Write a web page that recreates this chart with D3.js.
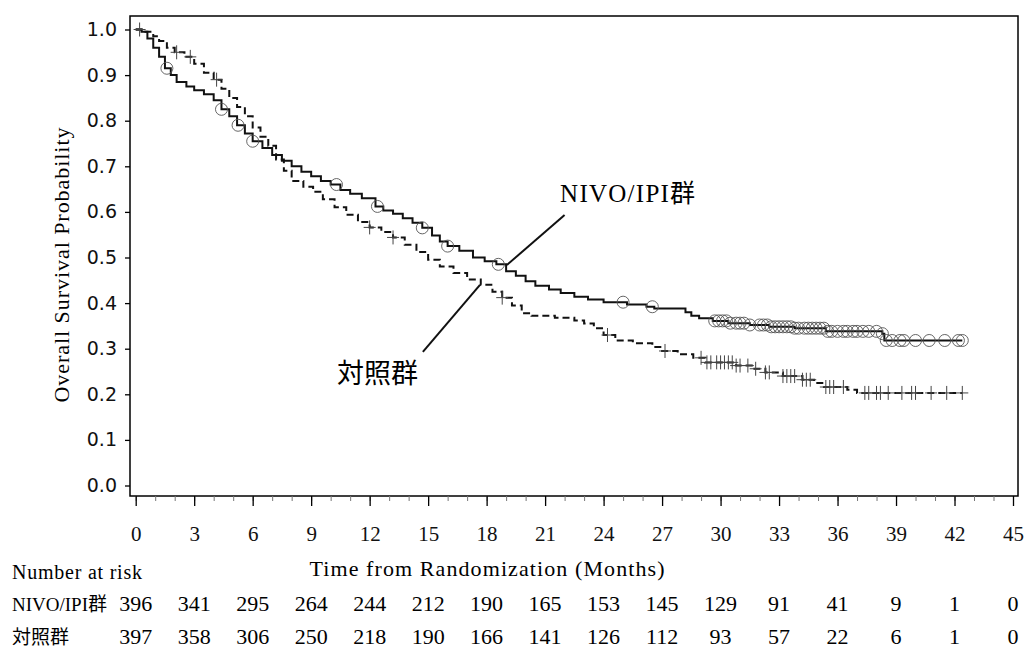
<!DOCTYPE html>
<html>
<head>
<meta charset="utf-8">
<script src="https://cdn.jsdelivr.net/npm/d3@7"></script>
<style>
  body { margin: 0; background: #fff; }
  .serif { font-family: "Liberation Serif", "Times New Roman", "Noto Sans CJK JP", serif; }
</style>
</head>
<body>
<div id="km"></div>
<script>
// Kaplan-Meier steps: [month, survival]
const nivoSteps = [
  [0, 1.0], [0.3, 0.995], [0.6, 0.98], [0.9, 0.96], [1.2, 0.94], [1.5, 0.915], [1.8, 0.9],
  [2.1, 0.885], [2.6, 0.875], [3.0, 0.867], [3.5, 0.858], [4.0, 0.845], [4.4, 0.825],
  [4.8, 0.81], [5.2, 0.79], [5.6, 0.772], [6.0, 0.755], [6.5, 0.74], [7.0, 0.725],
  [7.5, 0.712], [8.0, 0.7], [8.5, 0.688], [9.0, 0.678], [9.5, 0.668], [10.0, 0.66],
  [10.5, 0.648], [11.0, 0.64], [11.6, 0.63], [12.3, 0.612], [12.7, 0.603], [13.2, 0.596],
  [13.7, 0.586], [14.2, 0.576], [14.7, 0.565], [15.2, 0.548], [15.6, 0.535], [16.0, 0.525],
  [16.6, 0.515], [17.3, 0.5], [17.9, 0.492], [18.5, 0.485], [19.0, 0.47], [19.5, 0.46],
  [20.0, 0.448], [20.5, 0.438], [21.2, 0.43], [21.8, 0.422], [22.5, 0.414], [23.2, 0.408],
  [24.0, 0.402], [25.2, 0.397], [26.2, 0.392], [26.6, 0.388], [28.2, 0.38], [28.5, 0.372],
  [28.9, 0.367], [29.6, 0.361], [30.4, 0.356], [31.5, 0.352], [32.5, 0.348], [33.8, 0.345],
  [35.4, 0.338], [38.3, 0.333], [38.4, 0.318], [42.4, 0.318]
];

const controlSteps = [
  [0, 1.0], [0.5, 0.995], [0.9, 0.985], [1.2, 0.975], [1.6, 0.96], [2.0, 0.95], [2.5, 0.94],
  [3.0, 0.925], [3.5, 0.905], [4.0, 0.89], [4.4, 0.87], [4.8, 0.85], [5.2, 0.83], [5.6, 0.81],
  [6.0, 0.785], [6.4, 0.765], [6.8, 0.745], [7.2, 0.715], [7.6, 0.69], [8.0, 0.668],
  [8.6, 0.655], [9.1, 0.644], [9.6, 0.628], [10.2, 0.61], [10.8, 0.594], [11.4, 0.578],
  [12.0, 0.566], [12.6, 0.556], [13.2, 0.544], [13.8, 0.528], [14.4, 0.512], [15.0, 0.495],
  [15.6, 0.48], [16.3, 0.466], [17.0, 0.452], [17.7, 0.44], [18.3, 0.425], [18.8, 0.412],
  [19.3, 0.395], [19.8, 0.378], [20.3, 0.372], [21.5, 0.368], [22.5, 0.362], [23.0, 0.355],
  [23.5, 0.345], [24.0, 0.33], [24.6, 0.318], [25.5, 0.312], [26.5, 0.304], [27.0, 0.295],
  [27.8, 0.288], [28.6, 0.28], [29.2, 0.27], [30.8, 0.263], [31.6, 0.256], [32.3, 0.248],
  [33.2, 0.24], [34.2, 0.232], [34.8, 0.225], [35.3, 0.216], [36.5, 0.21], [37.0, 0.203],
  [42.4, 0.203]
];

// Censoring times (months)
const nivoCensored = [
  1.6, 4.4, 5.25, 6.0, 10.3, 12.4, 14.7, 16.0, 18.6, 25.0, 26.5,
  29.7, 29.9, 30.1, 30.3, 30.5, 30.8, 31.0, 31.2, 31.5, 32.0, 32.2, 32.4, 32.6, 32.8,
  33.0, 33.2, 33.4, 33.6, 33.8, 34.0, 34.3, 34.5, 34.7, 34.9, 35.1, 35.3, 35.5, 35.7,
  36.0, 36.3, 36.5, 36.8, 37.0, 37.3, 37.6, 38.0, 38.3, 38.5, 38.8, 39.2, 39.4, 40.0,
  40.7, 41.5, 42.2, 42.4
];

const controlCensored = [
  0.2, 2.1, 2.8, 4.15, 12.0, 13.2, 18.8, 24.2, 27.15,
  29.0, 29.3, 29.5, 29.8, 30.0, 30.2, 30.4, 30.6, 30.8, 31.0, 31.4, 31.8, 32.3, 32.5,
  33.2, 33.4, 33.6, 33.8, 34.2, 34.4, 34.6, 35.4, 35.6, 35.8, 36.3, 37.4, 37.6, 38.0,
  38.2, 38.6, 39.3, 39.8, 40.0, 40.8, 41.6, 42.4
];

// Number at risk table
const riskTimes = [0, 3, 6, 9, 12, 15, 18, 21, 24, 27, 30, 33, 36, 39, 42, 45];
const nivoAtRisk = [396, 341, 295, 264, 244, 212, 190, 165, 153, 145, 129, 91, 41, 9, 1, 0];
const controlAtRisk = [397, 358, 306, 250, 218, 190, 166, 141, 126, 112, 93, 57, 22, 6, 1, 0];
const groupNames = ["NIVO/IPI群", "対照群"];

// Ticks
const xMajorTicks = d3.range(0, 46, 3);
const xMinorTicks = d3.range(0, 46, 1);
const yTicks = d3.range(0, 11).map(i => i / 10);

const width = 1027, height = 648;
const frame = {left: 130, top: 16, right: 1018, bottom: 496};

const svg = d3.select("#km")
  .append("svg")
  .attr("width", width)
  .attr("height", height);

const x = d3.scaleLinear().domain([0, 45]).range([135.7, 1013]);
const y = d3.scaleLinear().domain([0, 1]).range([485.5, 29.5]);

// Step lookup for placing censor marks
function survivalAt(steps, t) {
  let s = steps[0][1];
  for (const [tt, v] of steps) {
    if (tt <= t) s = v; else break;
  }
  return s;
}

// Plot frame
svg.append("rect")
  .attr("x", frame.left)
  .attr("y", frame.top)
  .attr("width", frame.right - frame.left)
  .attr("height", frame.bottom - frame.top)
  .attr("fill", "none")
  .attr("stroke", "#000")
  .attr("stroke-width", 1.5);

// Y axis
const yAxis = svg.append("g")
  .attr("transform", `translate(${frame.left},0)`)
  .call(d3.axisLeft(y).tickValues(yTicks).tickFormat(d3.format(".1f")).tickSize(5).tickPadding(8));
yAxis.select(".domain").remove();
yAxis.selectAll("line").attr("stroke-width", 1.3);
yAxis.selectAll("text")
  .style("font-family", "'DejaVu Sans', sans-serif")
  .style("font-size", "19px")
  .attr("fill", "#111");

// X axis: minor then major ticks
const xMinor = svg.append("g")
  .attr("transform", `translate(0,${frame.bottom})`)
  .call(d3.axisBottom(x).tickValues(xMinorTicks).tickSize(5).tickFormat(""));
xMinor.select(".domain").remove();
xMinor.selectAll("line").attr("stroke", "#777");

const xAxis = svg.append("g")
  .attr("transform", `translate(0,${frame.bottom})`)
  .call(d3.axisBottom(x).tickValues(xMajorTicks).tickSize(10));
xAxis.select(".domain").remove();
xAxis.selectAll("line").attr("stroke-width", 1.3);
xAxis.selectAll("text")
  .attr("class", "serif")
  .attr("y", 45)
  .attr("dy", 0)
  .style("font-size", "21px")
  .attr("fill", "#111");

// Axis titles
svg.append("text")
  .attr("class", "serif")
  .attr("x", 487)
  .attr("y", 576)
  .attr("text-anchor", "middle")
  .style("font-size", "22px")
  .attr("textLength", 355)
  .text("Time from Randomization (Months)");

svg.append("text")
  .attr("class", "serif")
  .attr("transform", "translate(69,265) rotate(-90)")
  .attr("text-anchor", "middle")
  .style("font-size", "22px")
  .attr("textLength", 275)
  .text("Overall Survival Probability");

// Curves
const line = d3.line()
  .x(d => x(d[0]))
  .y(d => y(d[1]))
  .curve(d3.curveStepAfter);

svg.append("path")
  .datum(controlSteps)
  .attr("fill", "none")
  .attr("stroke", "#111")
  .attr("stroke-width", 2)
  .attr("stroke-dasharray", "7,4")
  .attr("d", line);

svg.append("path")
  .datum(nivoSteps)
  .attr("fill", "none")
  .attr("stroke", "#111")
  .attr("stroke-width", 2)
  .attr("d", line);

// Censor marks
svg.append("g")
  .selectAll("circle")
  .data(nivoCensored)
  .enter()
  .append("circle")
  .attr("cx", d => x(d))
  .attr("cy", d => y(survivalAt(nivoSteps, d)))
  .attr("r", 6)
  .attr("fill", "none")
  .attr("stroke", "#555")
  .attr("stroke-width", 0.9);

const crossPath = d => {
  const cx = x(d), cy = y(survivalAt(controlSteps, d));
  return `M${cx - 6},${cy}H${cx + 6}M${cx},${cy - 7}V${cy + 7}`;
};
svg.append("g")
  .selectAll("path")
  .data(controlCensored)
  .enter()
  .append("path")
  .attr("d", crossPath)
  .attr("fill", "none")
  .attr("stroke", "#444")
  .attr("stroke-width", 1);

// Curve labels with leader lines
svg.append("line")
  .attr("x1", x(22.0)).attr("y1", y(0.593))
  .attr("x2", x(19.04)).attr("y2", y(0.4836))
  .attr("stroke", "#111").attr("stroke-width", 2);
svg.append("text")
  .attr("class", "serif")
  .attr("x", x(21.77))
  .attr("y", y(0.622))
  .style("font-size", "25px")
  .attr("textLength", 135)
  .text(groupNames[0]);

svg.append("line")
  .attr("x1", x(17.66)).attr("y1", y(0.44))
  .attr("x2", x(14.73)).attr("y2", y(0.293))
  .attr("stroke", "#111").attr("stroke-width", 2);
svg.append("text")
  .attr("class", "serif")
  .attr("x", x(10.32))
  .attr("y", y(0.225))
  .style("font-size", "27px")
  .text(groupNames[1]);

// Number at risk
svg.append("text")
  .attr("class", "serif")
  .attr("x", 12)
  .attr("y", 579)
  .style("font-size", "20px")
  .attr("textLength", 130)
  .text("Number at risk");

const rows = [nivoAtRisk, controlAtRisk];
const rowY = [611, 644];
rows.forEach((vals, i) => {
  svg.append("text")
    .attr("class", "serif")
    .attr("x", 12)
    .attr("y", rowY[i])
    .style("font-size", "19px")
    .text(groupNames[i]);

  svg.append("g")
    .selectAll("text")
    .data(vals)
    .enter()
    .append("text")
    .attr("class", "serif")
    .attr("x", (d, j) => x(riskTimes[j]))
    .attr("y", rowY[i])
    .attr("text-anchor", "middle")
    .style("font-size", "22px")
    .text(d => d);
});
</script>
</body>
</html>
